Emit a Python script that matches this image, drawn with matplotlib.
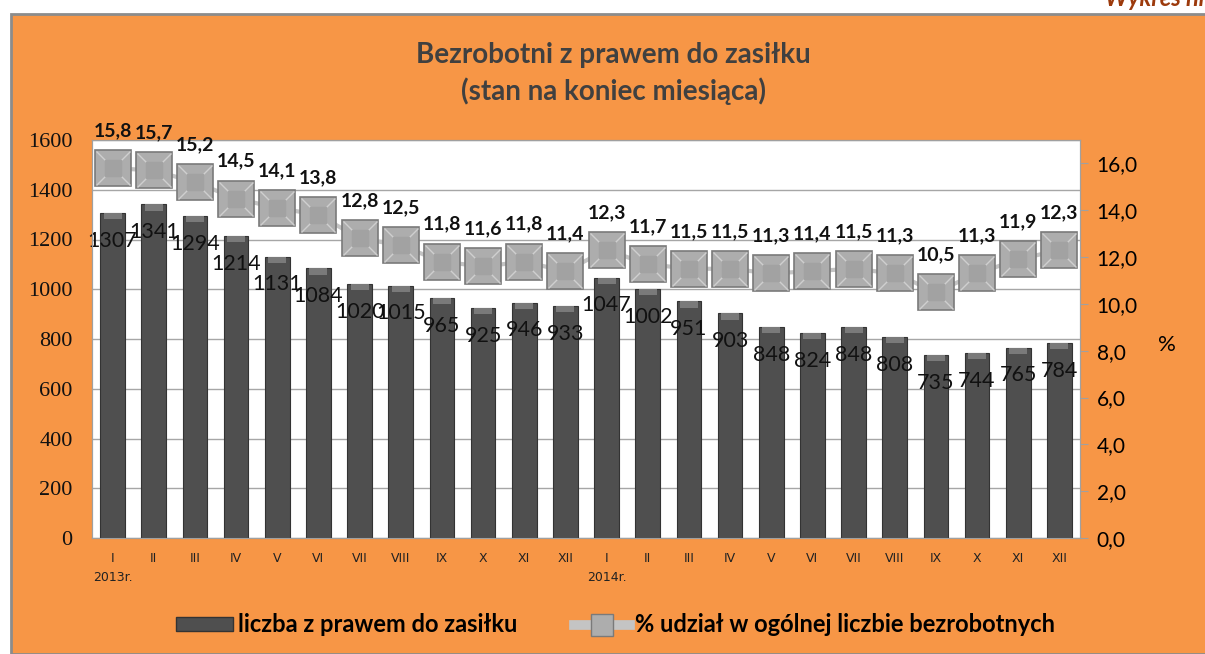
import matplotlib.pyplot as plt
from matplotlib.patches import Rectangle
from matplotlib.lines import Line2D
import matplotlib.transforms as mtransforms

months = ['I', 'II', 'III', 'IV', 'V', 'VI', 'VII', 'VIII', 'IX', 'X', 'XI', 'XII',
          'I', 'II', 'III', 'IV', 'V', 'VI', 'VII', 'VIII', 'IX', 'X', 'XI', 'XII']
years = ['2013r.', '2014r.']
year_pos = [0, 12]
liczba = [1307, 1341, 1294, 1214, 1131, 1084, 1020, 1015, 965, 925, 946, 933,
          1047, 1002, 951, 903, 848, 824, 848, 808, 735, 744, 765, 784]
udzial = [15.8, 15.7, 15.2, 14.5, 14.1, 13.8, 12.8, 12.5, 11.8, 11.6, 11.8, 11.4,
          12.3, 11.7, 11.5, 11.5, 11.3, 11.4, 11.5, 11.3, 10.5, 11.3, 11.9, 12.3]
left_ticks = list(range(0, 1601, 200))
right_ticks = list(range(0, 17, 2))

ORANGE = '#F79646'
BAR = '#4f4f4f'
MARK = '#adadad'
FONT = ['Lato', 'DejaVu Sans']

fig = plt.figure(figsize=(12.05, 6.54), dpi=100)
fig.patch.set_facecolor('white')
# orange frame
fig.patches.append(Rectangle((11 / 1205, 0), 1.0, 1 - 14 / 654, transform=fig.transFigure,
                             facecolor=ORANGE, edgecolor='#8c8c8c', linewidth=2, zorder=-10))
fig.text(1105 / 1205, 1 - 6 / 654, 'Wykres nr 6', color='#9c3a0c', fontsize=17, fontweight='bold',
         fontstyle='italic', family=FONT, va='baseline', ha='left')

ax = fig.add_axes([92 / 1205, 1 - 538 / 654, 988 / 1205, 398 / 654])
ax.set_facecolor('white')
x = list(range(len(liczba)))
ax.bar(x, liczba, width=0.6, color=BAR, edgecolor='#333333', linewidth=0.8, zorder=3)
# light bevel on top of bars
ax.bar(x, [25] * len(x), bottom=[v - 25 for v in liczba], width=0.44, color='#7a7a7a',
       linewidth=0, zorder=4)
for xi, v in zip(x, liczba):
    ax.annotate(str(v), (xi, v), xytext=(0, -20), textcoords='offset points', ha='center',
                va='center', fontsize=15.5, family=FONT, color='#111111', zorder=6)
ax.set_xlim(-0.5, len(x) - 0.5)
ax.set_ylim(0, 1600)
ax.set_yticks(left_ticks)
ax.set_yticklabels([str(v) for v in left_ticks])
ax.tick_params(axis='y', length=0, pad=14, labelsize=16, labelcolor='#111111',
               labelfontfamily='Liberation Serif')
ax.yaxis.grid(True, color='#a6a6a6', linewidth=1, zorder=0)
ax.set_axisbelow(True)
ax.set_xticks(x)
ax.set_xticklabels(months, fontsize=9, family='Liberation Sans Narrow', color='#222222')
ax.tick_params(axis='x', length=0, pad=10)
for xp, yl in zip(year_pos, years):
    ax.text(xp, -0.098, yl, transform=mtransforms.blended_transform_factory(ax.transData, ax.transAxes),
            ha='center', va='center', fontsize=9, family='Liberation Sans Narrow', color='#222222')
for s in ax.spines.values():
    s.set_color('#a0a0a0')

ax2 = ax.twinx()
ax2.set_ylim(0, 17)
ax2.set_yticks(right_ticks)
ax2.set_yticklabels([f'{v},0' for v in right_ticks], fontsize=15, family=FONT)
ax2.tick_params(axis='y', length=6, color='#a0a0a0', pad=6)
ax2.plot(x, udzial, color='#c4c4c4', linewidth=3, zorder=2)
ax2.plot(x, udzial, linestyle='none', marker='s', markersize=26, markerfacecolor=MARK,
         markeredgecolor='#7a7a7a', markeredgewidth=1.2, zorder=3)
ax2.plot(x, udzial, linestyle='none', marker='x', markersize=24, markeredgecolor='#cfcfcf',
         markeredgewidth=1, zorder=4)
ax2.plot(x, udzial, linestyle='none', marker='s', markersize=11, markerfacecolor='#a2a2a2',
         markeredgecolor='#a2a2a2', zorder=5)
for xi, v in zip(x, udzial):
    ax2.annotate(f'{v:.1f}'.replace('.', ','), (xi, v), xytext=(0, 27), textcoords='offset points',
                 ha='center', va='center', fontsize=14, fontweight='bold', family=FONT,
                 color='#111111', zorder=6)
for s in ax2.spines.values():
    s.set_color('#a0a0a0')
ax2.set_zorder(ax.get_zorder() + 1)
ax2.patch.set_visible(False)
fig.text(1167 / 1205, 1 - 345 / 654, '%', fontsize=16, family=FONT, ha='center', va='center')

fig.text(0.509, 1 - 55 / 654, 'Bezrobotni z prawem do zasiłku', fontsize=20, fontweight='bold',
         family=FONT, color='#404040', ha='center', va='center')
fig.text(0.509, 1 - 91 / 654, '(stan na koniec miesiąca)', fontsize=20, fontweight='bold',
         family=FONT, color='#404040', ha='center', va='center')

h1 = Rectangle((0, 0), 1, 1, facecolor=BAR, edgecolor='#333333')
h2 = Line2D([], [], color='#c4c4c4', linewidth=7, marker='s', markersize=16,
            markerfacecolor=MARK, markeredgecolor='#7a7a7a')
leg = fig.legend([h1, h2], ['liczba z prawem do zasiłku', '% udział w ogólnej liczbie bezrobotnych'],
                 loc='center', bbox_to_anchor=(0.511, 1 - 625 / 654), ncol=2, frameon=False,
                 prop={'family': FONT, 'size': 17, 'weight': 'bold'}, handlelength=2.4,
                 handleheight=0.55, handletextpad=0.2, columnspacing=2.4)

fig.savefig('out.png', dpi=100)
